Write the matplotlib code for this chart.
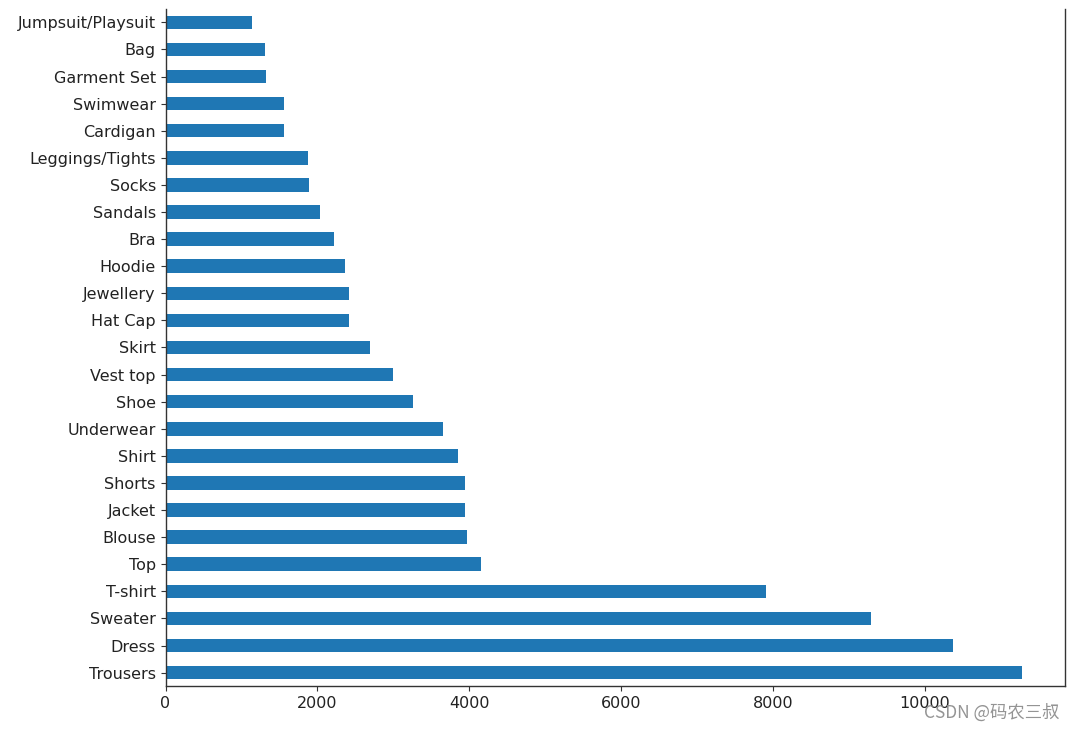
import matplotlib
matplotlib.use("Agg")
from matplotlib import pyplot as plt
import pandas as pd

# product types, ordered as in the chart (largest first, drawn at bottom)
categories = [
    "Trousers", "Dress", "Sweater", "T-shirt", "Top", "Blouse", "Jacket",
    "Shorts", "Shirt", "Underwear", "Shoe", "Vest top", "Skirt", "Hat Cap",
    "Jewellery", "Hoodie", "Bra", "Sandals", "Socks", "Leggings/Tights",
    "Cardigan", "Swimwear", "Garment Set", "Bag", "Jumpsuit/Playsuit",
]
counts = [
    11280, 10370, 9290, 7905, 4150, 3966, 3940,
    3939, 3847, 3650, 3254, 2991, 2688, 2411,
    2411, 2358, 2213, 2029, 1884, 1871,
    1555, 1555, 1318, 1304, 1133,
]

s = pd.Series(counts, index=categories)

fig = plt.figure(figsize=(10.75, 7.3), dpi=100)
ax = fig.add_axes([0.154, 0.060, 0.837, 0.928])
s.plot.barh(ax=ax, color="#1f77b4")

ax.spines["top"].set_visible(False)
for sp in ("left", "right", "bottom"):
    ax.spines[sp].set_color("#333333")
    ax.spines[sp].set_linewidth(1.0)
ax.set_xlim(0, 11850)
ax.tick_params(labelsize=11.5, labelcolor="#222222", color="#333333")

fig.text(0.986, 0.024, "CSDN @码农三叔", ha="right", va="center",
         fontsize=12.5, color="#888888", alpha=0.9,
         family=["Noto Sans CJK SC", "DejaVu Sans"])

fig.savefig("out.png", dpi=100)
